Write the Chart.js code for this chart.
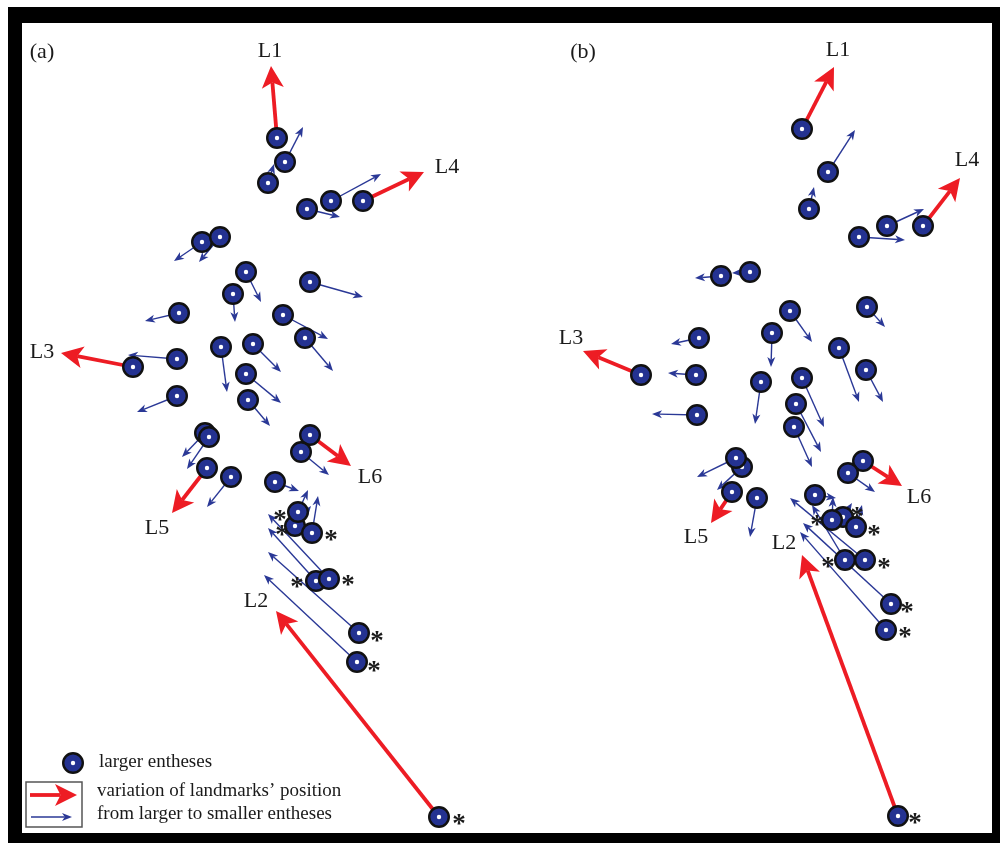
<!DOCTYPE html>
<html><head><meta charset="utf-8">
<script src="https://cdn.jsdelivr.net/npm/chart.js@4.4.0/dist/chart.umd.min.js"></script>
<style>
html,body{margin:0;padding:0;background:#fff;overflow:hidden;}
#frame{position:absolute;left:8px;top:7px;width:992px;height:836px;background:#000;}
#wrap{position:absolute;left:22px;top:23px;width:970px;height:810px;background:#fff;}
</style></head><body>
<div id="frame"></div>
<div id="wrap"><canvas id="c"></canvas></div>
<script>
// ---- Panel (a): landmark positions for larger entheses and where they move for smaller entheses
const largerA = [[277,138],[285,162],[268,183],[307,209],[331,201],[363,201],
  [202,242],[220,237],[246,272],[310,282],[233,294],[179,313],[283,315],[305,338],
  [133,367],[177,359],[221,347],[253,344],[246,374],[177,396],[248,400],
  [205,433],[209,437],[207,468],[231,477],[310,435],[301,452],[275,482],
  [295,526],[298,512],[312,533],[316,581],[329,579],[359,633],[357,662],[439,817]];
const smallerA = [[271,66],[303,127],[274,164],[340,217],[381,174],[424,172],
  [174,261],[199,262],[261,302],[363,297],[235,322],[145,321],[328,339],[333,371],
  [61,353],[128,355],[227,392],[281,372],[281,403],[137,412],[270,426],
  [182,457],[187,469],[172,513],[207,507],[351,466],[329,475],[299,491],
  [311,506],[308,490],[318,496],[268,528],[268,514],[268,552],[264,575],[276,611]];
const landmarkIdxA = [0,35,14,5,23,25];          // L1..L6
const asteriskA = [[280,513],[282,528],[331,533],[297,580],[348,578],[377,634],[374,664],[459,817]];

// ---- Panel (b)
const largerB = [[802,129],[828,172],[809,209],[859,237],[887,226],[923,226],
  [750,272],[721,276],[790,311],[867,307],[772,333],[699,338],[839,348],[866,370],
  [641,375],[696,375],[761,382],[802,378],[796,404],[697,415],[794,427],
  [742,467],[736,458],[732,492],[757,498],[863,461],[848,473],[815,495],
  [843,517],[832,520],[856,527],[845,560],[865,560],[891,604],[886,630],[898,816]];
const smallerB = [[834,67],[855,130],[814,187],[905,240],[924,209],[960,178],
  [732,273],[695,278],[812,342],[885,327],[771,367],[671,344],[859,402],[883,402],
  [583,351],[668,373],[755,424],[824,427],[821,452],[652,414],[812,467],
  [717,490],[697,477],[711,523],[750,537],[902,486],[875,492],[836,498],
  [852,503],[833,497],[862,505],[812,505],[790,498],[803,523],[800,532],[802,555]];
const landmarkIdxB = [0,35,14,5,23,25];
const asteriskB = [[817,518],[857,510],[874,528],[828,560],[884,561],[907,605],[905,630],[915,816]];

const landmarkNames = ['L1','L2','L3','L4','L5','L6'];
const panelNames = ['(a)','(b)'];
const legendTexts = ['larger entheses','variation of landmarks\u2019 position','from larger to smaller entheses'];

// ---- styles / label placement
const NAVY = 'rgb(36,50,145)', BLUE = 'rgb(42,56,150)', RED = 'rgb(237,28,36)';
const labelPos = {
  a: {panel:[42,52], L:[[270,51],[256,601],[42,352],[447,167],[157,528],[370,477]]},
  b: {panel:[583,52], L:[[838,50],[784,543],[571,338],[967,160],[696,537],[919,497]]}
};

// marker image: navy disc, black outline, white centre
const marker = document.createElement('canvas');
marker.width = 26; marker.height = 26;
(function(){
  const m = marker.getContext('2d');
  m.beginPath(); m.arc(13,13,9.8,0,Math.PI*2);
  m.fillStyle = NAVY; m.fill();
  m.lineWidth = 2.4; m.strokeStyle = '#111'; m.stroke();
  m.beginPath(); m.arc(13,13,2.2,0,Math.PI*2); m.fillStyle = '#fff'; m.fill();
})();

function drawArrow(ctx,a,b,color,w,hl,hw,notch){
  const dx=b[0]-a[0], dy=b[1]-a[1], L=Math.hypot(dx,dy);
  const ux=dx/L, uy=dy/L, nx=-uy, ny=ux;
  const bx=b[0]-ux*hl, by=b[1]-uy*hl;
  const ix=b[0]-ux*(hl-notch), iy=b[1]-uy*(hl-notch);
  ctx.save();
  ctx.strokeStyle=color; ctx.fillStyle=color; ctx.lineWidth=w; ctx.lineCap='butt';
  ctx.beginPath(); ctx.moveTo(a[0],a[1]); ctx.lineTo(ix,iy); ctx.stroke();
  ctx.beginPath(); ctx.moveTo(b[0],b[1]); ctx.lineTo(bx+nx*hw,by+ny*hw);
  ctx.lineTo(ix,iy); ctx.lineTo(bx-nx*hw,by-ny*hw); ctx.closePath(); ctx.fill();
  ctx.restore();
}

const panels = [
  {larger:largerA, smaller:smallerA, lm:landmarkIdxA, ast:asteriskA, pos:labelPos.a, name:panelNames[0]},
  {larger:largerB, smaller:smallerB, lm:landmarkIdxB, ast:asteriskB, pos:labelPos.b, name:panelNames[1]}
];

const SERIF = '"Liberation Serif","Times New Roman",serif';

const overlay = {
  id:'overlay',
  beforeDatasetsDraw(chart){
    const ctx=chart.ctx, xs=chart.scales.x, ys=chart.scales.y;
    const P=p=>[xs.getPixelForValue(p[0]), ys.getPixelForValue(p[1])];
    panels.forEach(pn=>{
      pn.larger.forEach((p,i)=>{
        if (pn.lm.includes(i)) return;
        drawArrow(ctx,P(p),P(pn.smaller[i]),BLUE,1.4,10,4,2.8);
      });
      pn.lm.forEach(i=>{
        drawArrow(ctx,P(pn.larger[i]),P(pn.smaller[i]),RED,3.8,22,11,5.5);
      });
    });
  },
  afterDatasetsDraw(chart){
    const ctx=chart.ctx, xs=chart.scales.x, ys=chart.scales.y;
    const P=p=>[xs.getPixelForValue(p[0]), ys.getPixelForValue(p[1])];
    ctx.save();
    ctx.fillStyle='#1a1a1a';
    ctx.textAlign='center'; ctx.textBaseline='middle';
    panels.forEach(pn=>{
      ctx.font='22px '+SERIF;
      let q=P(pn.pos.panel); ctx.fillText(pn.name,q[0],q[1]);
      landmarkNames.forEach((n,k)=>{ const r=P(pn.pos.L[k]); ctx.fillText(n,r[0],r[1]); });
      ctx.font='bold 27px '+SERIF;
      ctx.textBaseline='alphabetic';
      pn.ast.forEach(a=>{ const r=P(a); ctx.fillText('*',r[0],r[1]+15); });
      ctx.textBaseline='middle';
    });
    // legend
    const lg=P([73,763]);
    ctx.drawImage(marker,lg[0]-13,lg[1]-13);
    ctx.textAlign='left';
    ctx.font='19px '+SERIF;
    let t=P([99,762]); ctx.fillText(legendTexts[0],t[0],t[1]);
    t=P([97,791]); ctx.fillText(legendTexts[1],t[0],t[1]);
    t=P([97,814]); ctx.fillText(legendTexts[2],t[0],t[1]);
    const b0=P([26,782]), b1=P([82,827]);
    ctx.strokeStyle='#555'; ctx.lineWidth=1.5;
    ctx.strokeRect(b0[0],b0[1],b1[0]-b0[0],b1[1]-b0[1]);
    drawArrow(ctx,P([30,795]),P([77,795]),RED,3.8,22,11,5.5);
    drawArrow(ctx,P([31,817]),P([72,817]),BLUE,1.4,10,4,2.8);
    ctx.restore();
  }
};

const toXY = arr => arr.map(p=>({x:p[0], y:p[1]}));

new Chart(document.getElementById('c'), {
  type:'scatter',
  data:{ datasets:[
    {label:'(a) larger entheses', data:toXY(largerA), pointStyle:marker, pointRadius:11, pointHoverRadius:11, clip:false},
    {label:'(b) larger entheses', data:toXY(largerB), pointStyle:marker, pointRadius:11, pointHoverRadius:11, clip:false}
  ]},
  options:{
    responsive:true, maintainAspectRatio:false, animation:false,
    layout:{padding:0, autoPadding:false},
    events:[],
    plugins:{legend:{display:false}, tooltip:{enabled:false}},
    scales:{
      x:{type:'linear', min:22, max:992, display:false},
      y:{type:'linear', min:23, max:833, reverse:true, display:false}
    }
  },
  plugins:[overlay]
});
</script>
</body></html>
